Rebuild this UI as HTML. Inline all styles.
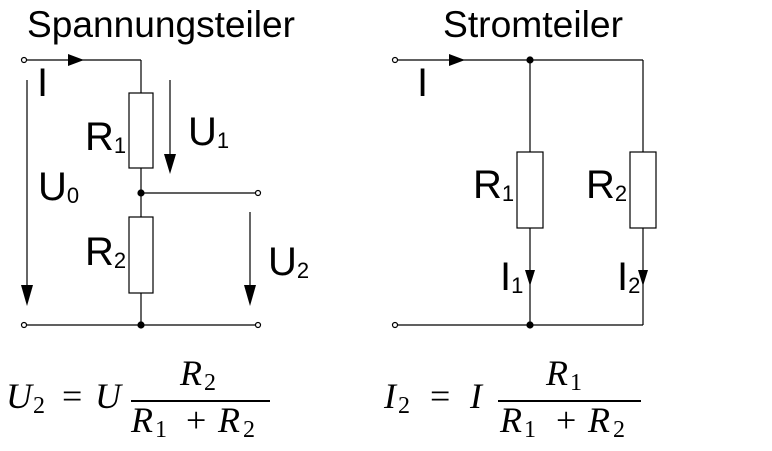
<!DOCTYPE html>
<html><head><meta charset="utf-8"><style>
html,body{margin:0;padding:0;background:#fff;}
svg{display:block;}
.t{font-family:"Liberation Sans",sans-serif;fill:#000;}
.m{font-family:"Liberation Serif",serif;fill:#000;font-size:36px;}
.i{font-style:italic;}
.s{font-size:24px;}
</style></head><body>
<svg width="772" height="451" viewBox="0 0 772 451">
<g stroke="#000" stroke-width="1.2" fill="none">
<text class="t" x="27" y="37" font-size="37" textLength="268" lengthAdjust="spacingAndGlyphs" stroke="none">Spannungsteiler</text>
<line x1="27" y1="60" x2="141" y2="60"/>
<line x1="141" y1="60" x2="141" y2="93"/>
<rect x="129" y="93" width="24" height="75" fill="#fff"/>
<line x1="141" y1="168" x2="141" y2="217"/>
<line x1="141" y1="193" x2="255" y2="193"/>
<rect x="129" y="217" width="24" height="76" fill="#fff"/>
<line x1="141" y1="293" x2="141" y2="325"/>
<line x1="27" y1="325" x2="255" y2="325"/>
<circle cx="24" cy="60" r="2.5" fill="#fff"/><circle cx="24" cy="325" r="2.5" fill="#fff"/>
<circle cx="258" cy="193" r="2.5" fill="#fff"/><circle cx="258" cy="325" r="2.5" fill="#fff"/>
<circle cx="141" cy="193" r="3" fill="#000"/><circle cx="141" cy="325" r="3" fill="#000"/>
<polygon points="68,54 84,60 68,66" fill="#000" stroke="none"/>
<line x1="27" y1="80" x2="27" y2="290"/><polygon points="21,285 33,285 27,306" fill="#000" stroke="none"/>
<line x1="170" y1="80" x2="170" y2="160"/><polygon points="164,154 176,154 170,174" fill="#000" stroke="none"/>
<line x1="250" y1="212" x2="250" y2="290"/><polygon points="244,285 256,285 250,306" fill="#000" stroke="none"/>
<g stroke="none">
<text class="t" x="37" y="96" font-size="40">I</text>
<text class="t" x="38" y="200" font-size="40">U<tspan font-size="22" dy="3">0</tspan></text>
<text class="t" x="85" y="150" font-size="40">R<tspan font-size="22" dy="3">1</tspan></text>
<text class="t" x="188" y="145" font-size="40">U<tspan font-size="22" dy="3">1</tspan></text>
<text class="t" x="85" y="265" font-size="40">R<tspan font-size="22" dy="3">2</tspan></text>
<text class="t" x="268" y="275" font-size="40">U<tspan font-size="22" dy="3">2</tspan></text>
</g>
</g>
<g stroke="#000" stroke-width="1.2" fill="none">
<text class="t" x="443" y="37" font-size="37" textLength="180" lengthAdjust="spacingAndGlyphs" stroke="none">Stromteiler</text>
<line x1="398" y1="60" x2="643" y2="60"/>
<line x1="643" y1="60" x2="643" y2="325"/>
<line x1="530" y1="60" x2="530" y2="325"/>
<line x1="398" y1="325" x2="643" y2="325"/>
<rect x="517" y="152" width="26" height="76" fill="#fff"/>
<rect x="630" y="152" width="26" height="76" fill="#fff"/>
<circle cx="395" cy="60" r="2.5" fill="#fff"/><circle cx="395" cy="325" r="2.5" fill="#fff"/>
<circle cx="530" cy="60" r="3" fill="#000"/><circle cx="530" cy="325" r="3" fill="#000"/>
<polygon points="449,54 465,60 449,66" fill="#000" stroke="none"/>
<polygon points="525,270 535,270 530,286" fill="#000" stroke="none"/>
<polygon points="638,270 648,270 643,286" fill="#000" stroke="none"/>
<g stroke="none">
<text class="t" x="417" y="96" font-size="40">I</text>
<text class="t" x="473" y="198" font-size="40">R<tspan font-size="22" dy="3">1</tspan></text>
<text class="t" x="586" y="198" font-size="40">R<tspan font-size="22" dy="3">2</tspan></text>
<text class="t" x="500" y="290" font-size="40">I<tspan font-size="22" dy="3">1</tspan></text>
<text class="t" x="617" y="290" font-size="40">I<tspan font-size="22" dy="3">2</tspan></text>
</g>
</g>
<g>
<text class="m i" x="6" y="408">U</text><text class="m s" x="33" y="413">2</text>
<text class="m" x="62" y="408">=</text>
<text class="m i" x="95" y="408">U</text>
<text class="m i" x="180" y="385">R</text><text class="m s" x="204" y="390">2</text>
<line x1="131" y1="401" x2="270" y2="401" stroke="#000" stroke-width="2"/>
<text class="m i" x="131" y="432">R</text><text class="m s" x="155" y="437">1</text>
<text class="m" x="186" y="432">+</text>
<text class="m i" x="218" y="432">R</text><text class="m s" x="243" y="437">2</text>
</g>
<g>
<text class="m i" x="384" y="408">I</text><text class="m s" x="398" y="413">2</text>
<text class="m" x="430" y="408">=</text>
<text class="m i" x="470" y="408">I</text>
<text class="m i" x="546" y="385">R</text><text class="m s" x="570" y="390">1</text>
<line x1="498" y1="401" x2="641" y2="401" stroke="#000" stroke-width="2"/>
<text class="m i" x="500" y="432">R</text><text class="m s" x="524" y="437">1</text>
<text class="m" x="556" y="432">+</text>
<text class="m i" x="588" y="432">R</text><text class="m s" x="613" y="437">2</text>
</g>
</svg>
</body></html>
